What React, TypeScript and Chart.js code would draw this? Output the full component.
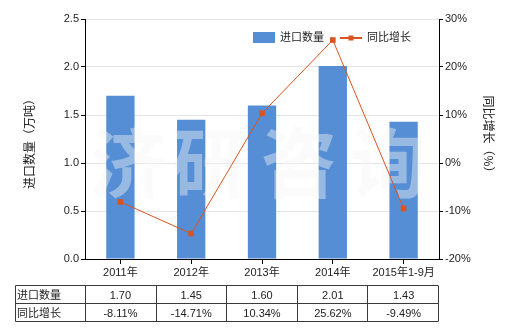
import React, { useEffect, useRef } from "react";
import { Chart, registerables } from "chart.js";

Chart.register(...registerables);

const categories = ["2011年", "2012年", "2013年", "2014年", "2015年1-9月"];
const importQty = [1.7, 1.45, 1.6, 2.01, 1.43];
const yoyGrowth = [-8.11, -14.71, 10.34, 25.62, -9.49];
const qtyLabels = ["1.70", "1.45", "1.60", "2.01", "1.43"];
const growthLabels = ["-8.11%", "-14.71%", "10.34%", "25.62%", "-9.49%"];
const seriesNames = ["进口数量", "同比增长"];
const leftTitle = "进口数量（万吨）";
const rightTitle = "同比增长（%）";
const watermark = ["济", "研", "咨", "询"];

const BAR_COLOR = "#558ed5";
const LINE_COLOR = "#d9541e";
const FONT = "'Liberation Sans', 'Noto Sans CJK SC', sans-serif";
const TEXT = "#222";

const decorPlugin = {
  id: "decor",
  afterDatasetDraw(chart: any, args: any) {
    if (args.meta.type !== "bar") return;
    const ctx = chart.ctx;
    ctx.save();
    ctx.fillStyle = "rgba(246,246,246,0.42)";
    ctx.font = "bold 76px 'Noto Sans CJK SC', sans-serif";
    ctx.textAlign = "center";
    ctx.textBaseline = "middle";
    const xs = [128, 210, 299, 388];
    watermark.forEach((c, i) => ctx.fillText(c, xs[i], 163));
    ctx.restore();
  },
  afterDraw(chart: any) {
    const ctx = chart.ctx;
    const xs = chart.scales.x;
    ctx.save();
    // legend
    ctx.fillStyle = BAR_COLOR;
    ctx.fillRect(253, 32, 22, 11);
    ctx.font = "11px " + FONT;
    ctx.fillStyle = TEXT;
    ctx.textBaseline = "middle";
    ctx.textAlign = "left";
    ctx.fillText(seriesNames[0], 280, 38);
    ctx.strokeStyle = LINE_COLOR;
    ctx.lineWidth = 2;
    ctx.beginPath();
    ctx.moveTo(340, 38);
    ctx.lineTo(362, 38);
    ctx.stroke();
    ctx.fillStyle = LINE_COLOR;
    ctx.fillRect(348.5, 35.5, 5, 5);
    ctx.fillStyle = TEXT;
    ctx.fillText(seriesNames[1], 367, 38);

    // axis titles
    ctx.font = "12px 'Noto Sans CJK SC', sans-serif";
    ctx.textAlign = "center";
    ctx.save();
    ctx.translate(29, 141);
    ctx.rotate(-Math.PI / 2);
    ctx.fillText(leftTitle, 0, 0);
    ctx.restore();
    ctx.save();
    ctx.translate(489, 137);
    ctx.rotate(Math.PI / 2);
    ctx.fillText(rightTitle, 0, 0);
    ctx.restore();

    // data table
    const left = 15.5;
    const colLeft = xs.left;
    const right = xs.right - 1;
    const top = 285.5;
    const mid = 303.5;
    const bot = 321.5;
    ctx.strokeStyle = "#3a3a3a";
    ctx.lineWidth = 1;
    ctx.beginPath();
    [top, mid, bot].forEach((y) => {
      ctx.moveTo(left, y);
      ctx.lineTo(right, y);
    });
    ctx.moveTo(left, top);
    ctx.lineTo(left, bot);
    const n = categories.length;
    const w = (right - colLeft) / n;
    for (let i = 0; i <= n; i++) {
      const x = Math.round(colLeft + i * w) + 0.5;
      ctx.moveTo(x, top);
      ctx.lineTo(x, bot);
    }
    ctx.stroke();
    ctx.font = "11px " + FONT;
    ctx.fillStyle = TEXT;
    ctx.textAlign = "left";
    ctx.fillText(seriesNames[0], 17, (top + mid) / 2 + 1);
    ctx.fillText(seriesNames[1], 17, (mid + bot) / 2 + 1);
    ctx.textAlign = "center";
    for (let i = 0; i < n; i++) {
      const cx = xs.getPixelForValue(i);
      ctx.fillText(qtyLabels[i], cx, (top + mid) / 2 + 1);
      ctx.fillText(growthLabels[i], cx, (mid + bot) / 2 + 1);
    }
    ctx.restore();
  },
};

export default function App() {
  const ref = useRef<HTMLCanvasElement>(null);
  useEffect(() => {
    if (!ref.current) return;
    const chart = new Chart(ref.current, {
      type: "bar",
      data: {
        labels: categories,
        datasets: [
          {
            type: "bar",
            label: seriesNames[0],
            data: importQty,
            backgroundColor: BAR_COLOR,
            yAxisID: "y",
            order: 1,
            barPercentage: 0.8,
            categoryPercentage: 0.5,
          },
          {
            type: "line",
            label: seriesNames[1],
            data: yoyGrowth,
            borderColor: LINE_COLOR,
            backgroundColor: LINE_COLOR,
            borderWidth: 1,
            pointStyle: "rect",
            pointRadius: 4,
            pointBorderWidth: 0,
            yAxisID: "y1",
            order: 0,
          },
        ],
      },
      options: {
        animation: false,
        responsive: false,
        layout: { padding: { top: 19, left: 0, right: 0, bottom: 0 } },
        plugins: { legend: { display: false }, tooltip: { enabled: false } },
        scales: {
          x: {
            offset: true,
            grid: {
              offset: false,
              drawOnChartArea: false,
              drawTicks: true,
              tickLength: 5,
              tickColor: "#000",
            },
            border: { color: "#000" },
            ticks: { color: TEXT, font: { size: 11, family: FONT }, padding: 2, maxRotation: 0 },
            afterFit: (s: any) => {
              s.height = 71;
            },
          },
          y: {
            position: "left",
            min: 0,
            max: 2.5,
            ticks: {
              stepSize: 0.5,
              color: TEXT,
              font: { size: 11, family: FONT },
              padding: 2,
              callback: (v: any) => Number(v).toFixed(1),
            },
            grid: { color: "#e4e4e4", tickColor: "#000", tickLength: 4 },
            border: { color: "#000" },
            afterFit: (s: any) => {
              s.width = 85;
            },
          },
          y1: {
            position: "right",
            min: -20,
            max: 30,
            ticks: {
              stepSize: 10,
              color: TEXT,
              font: { size: 11, family: FONT },
              padding: 2,
              callback: (v: any) => v + "%",
            },
            grid: { drawOnChartArea: false, tickColor: "#000", tickLength: 4 },
            border: { color: "#000" },
            afterFit: (s: any) => {
              s.width = 81;
            },
          },
        },
      },
      plugins: [decorPlugin],
    } as any);
    return () => chart.destroy();
  }, []);
  return (
    <div style={{ position: "fixed", left: 0, top: 0, width: 520, height: 330, background: "#fff" }}>
      <canvas ref={ref} width={520} height={330} style={{ width: 520, height: 330, display: "block" }} />
    </div>
  );
}
